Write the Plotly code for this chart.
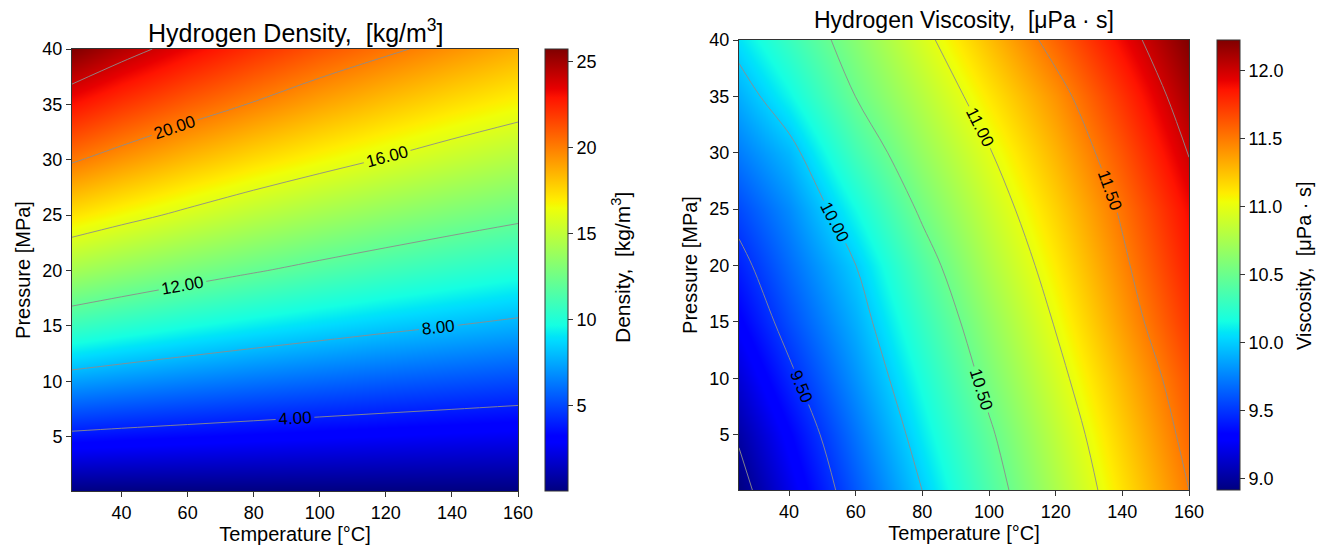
import numpy as np
import plotly.graph_objects as go

# ---------------- data ----------------
temperature_c = [25, 40, 60, 80, 100, 120, 140, 160]
pressure_mpa = [0.1, 5, 10, 15, 20, 25, 30, 35, 40]

# Hydrogen density [kg/m3], rows = pressure, cols = temperature
density_p01 = [0.081, 0.077, 0.073, 0.069, 0.065, 0.062, 0.059, 0.056]
density_p05 = [3.64, 3.47, 3.28, 3.11, 2.95, 2.81, 2.68, 2.56]
density_p10 = [7.27, 6.94, 6.55, 6.20, 5.89, 5.60, 5.35, 5.11]
density_p15 = [10.81, 10.32, 9.73, 9.22, 8.77, 8.36, 8.00, 7.65]
density_p20 = [14.13, 13.51, 12.78, 12.13, 11.52, 10.97, 10.47, 10.02]
density_p25 = [17.24, 16.53, 15.66, 14.84, 14.12, 13.47, 12.88, 12.35]
density_p30 = [20.17, 19.32, 18.31, 17.41, 16.62, 15.89, 15.19, 14.55]
density_p35 = [22.99, 22.00, 20.87, 19.89, 18.95, 18.12, 17.36, 16.68]
density_p40 = [25.75, 24.61, 23.30, 22.15, 21.15, 20.29, 19.47, 18.69]

# Hydrogen viscosity [uPa s], rows = pressure, cols = temperature
visc_p01 = [8.919, 9.222, 9.619, 10.002, 10.387, 10.765, 11.136, 11.500]
visc_p05 = [9.025, 9.318, 9.708, 10.093, 10.465, 10.836, 11.205, 11.570]
visc_p10 = [9.170, 9.453, 9.812, 10.185, 10.565, 10.926, 11.285, 11.643]
visc_p15 = [9.310, 9.579, 9.904, 10.285, 10.660, 11.016, 11.380, 11.744]
visc_p20 = [9.435, 9.681, 9.998, 10.395, 10.769, 11.103, 11.457, 11.825]
visc_p25 = [9.572, 9.785, 10.155, 10.540, 10.874, 11.194, 11.531, 11.896]
visc_p30 = [9.737, 9.930, 10.338, 10.675, 10.984, 11.299, 11.636, 12.009]
visc_p35 = [9.901, 10.134, 10.502, 10.806, 11.117, 11.416, 11.759, 12.119]
visc_p40 = [10.070, 10.300, 10.616, 10.937, 11.260, 11.582, 11.904, 12.226]

density = [density_p01, density_p05, density_p10, density_p15, density_p20,
           density_p25, density_p30, density_p35, density_p40]
viscosity = [visc_p01, visc_p05, visc_p10, visc_p15, visc_p20,
             visc_p25, visc_p30, visc_p35, visc_p40]

x_ticks = [40, 60, 80, 100, 120, 140, 160]
y_ticks = [5, 10, 15, 20, 25, 30, 35, 40]
dens_cb_ticks = [5, 10, 15, 20, 25]
visc_cb_ticks = [9.0, 9.5, 10.0, 10.5, 11.0, 11.5, 12.0]

# ---------------- matplotlib "jet" colour map ----------------
def jet_scale():
    r = ([0, 0.35, 0.66, 0.89, 1], [0, 0, 1, 1, 0.5])
    g = ([0, 0.125, 0.375, 0.64, 0.91, 1], [0, 0, 1, 1, 0, 0])
    b = ([0, 0.11, 0.34, 0.65, 1], [0.5, 1, 1, 0, 0])
    pts = sorted(set(r[0] + g[0] + b[0]))
    scale = []
    for p in pts:
        rr = np.interp(p, *r); gg = np.interp(p, *g); bb = np.interp(p, *b)
        scale.append([p, f"rgb({int(round(rr*255))},{int(round(gg*255))},{int(round(bb*255))})"])
    return scale

JET = jet_scale()
FONT = "Liberation Sans, Arial, sans-serif"
W, H = 1317, 545

def px_x(v):
    return v / W

def px_y(v):
    return 1 - v / H

dens_min = float(np.min(density)); dens_max = float(np.max(density))
visc_min = float(np.min(viscosity)); visc_max = float(np.max(viscosity))

cb_common = dict(xanchor="left", thickness=23, thicknessmode="pixels", lenmode="fraction",
                 yanchor="middle", xpad=0, ypad=0, outlinecolor="#333", outlinewidth=1,
                 ticks="outside", ticklen=5, tickcolor="#333",
                 tickfont=dict(size=18, family=FONT, color="black"))

fig = go.Figure()

# colour fields
fig.add_trace(go.Heatmap(
    x=temperature_c, y=pressure_mpa, z=density, zsmooth="best",
    colorscale=JET, zmin=dens_min, zmax=dens_max,
    xaxis="x", yaxis="y", hoverinfo="skip",
    colorbar=dict(x=px_x(545), len=(491 - 49) / H, y=px_y(270),
                  tickvals=dens_cb_ticks, **cb_common),
))
fig.add_trace(go.Heatmap(
    x=temperature_c, y=pressure_mpa, z=viscosity, zsmooth="best",
    colorscale=JET, zmin=visc_min, zmax=visc_max,
    xaxis="x2", yaxis="y2", hoverinfo="skip",
    colorbar=dict(x=px_x(1217), len=(490 - 40) / H, y=px_y(265),
                  tickvals=visc_cb_ticks, tickformat=".1f", **cb_common),
))

# labelled contour lines
fig.add_trace(go.Contour(
    x=temperature_c, y=pressure_mpa, z=density, showscale=False,
    autocontour=False,
    contours=dict(coloring="none", start=4, end=24, size=4,
                  showlabels=True, labelformat=".2f",
                  labelfont=dict(size=17, color="black", family=FONT)),
    line=dict(color="#8c8c8c", width=0.9),
    xaxis="x", yaxis="y", hoverinfo="skip",
))
fig.add_trace(go.Contour(
    x=temperature_c, y=pressure_mpa, z=viscosity, showscale=False,
    autocontour=False,
    contours=dict(coloring="none", start=9.0, end=12.0, size=0.5,
                  showlabels=True, labelformat=".2f",
                  labelfont=dict(size=17, color="black", family=FONT)),
    line=dict(color="#8c8c8c", width=0.9),
    xaxis="x2", yaxis="y2", hoverinfo="skip",
))

axis_common = dict(showline=True, mirror=True, linecolor="#333", linewidth=1,
                   ticks="outside", ticklen=5, tickcolor="#333", showgrid=False,
                   zeroline=False, automargin=False,
                   tickfont=dict(size=18, family=FONT, color="black"))

fig.update_layout(
    width=W, height=H,
    margin=dict(l=0, r=0, t=0, b=0, autoexpand=False),
    paper_bgcolor="white", plot_bgcolor="white",
    font=dict(family=FONT, color="black"),
    xaxis=dict(domain=[px_x(72), px_x(518)], range=[25, 160], tickvals=x_ticks,
               anchor="y", title=dict(text="Temperature [°C]", font=dict(size=20), standoff=4),
               **axis_common),
    yaxis=dict(domain=[px_y(491), px_y(49)], range=[0.1, 40], tickvals=y_ticks,
               anchor="x", title=dict(text="Pressure [MPa]", font=dict(size=20), standoff=6),
               **axis_common),
    xaxis2=dict(domain=[px_x(739), px_x(1189)], range=[25, 160], tickvals=x_ticks,
                anchor="y2", title=dict(text="Temperature [°C]", font=dict(size=20), standoff=4),
                **axis_common),
    yaxis2=dict(domain=[px_y(490), px_y(40)], range=[0.1, 40], tickvals=y_ticks,
                anchor="x2", title=dict(text="Pressure [MPa]", font=dict(size=20), standoff=6),
                **axis_common),
    annotations=[
        dict(text="Hydrogen Density,  [kg/m<sup>3</sup>]", x=px_x(296), y=px_y(31),
             xref="paper", yref="paper", showarrow=False, xanchor="center", yanchor="middle",
             font=dict(size=25, family=FONT, color="black")),
        dict(text="Hydrogen Viscosity,  [μPa · s]", x=px_x(964), y=px_y(20),
             xref="paper", yref="paper", showarrow=False, xanchor="center", yanchor="middle",
             font=dict(size=23, family=FONT, color="black")),
        dict(text="Density,  [kg/m<sup>3</sup>]", x=px_x(621), y=px_y(268), textangle=-90,
             xref="paper", yref="paper", showarrow=False, xanchor="center", yanchor="middle",
             font=dict(size=21, family=FONT, color="black")),
        dict(text="Viscosity,  [μPa · s]", x=px_x(1304), y=px_y(266), textangle=-90,
             xref="paper", yref="paper", showarrow=False, xanchor="center", yanchor="middle",
             font=dict(size=20, family=FONT, color="black")),
    ],
)

fig.write_html(
    "out.html",
    config={"displayModeBar": False},
    post_script="document.body.style.margin='0';document.body.style.overflow='hidden';",
)
